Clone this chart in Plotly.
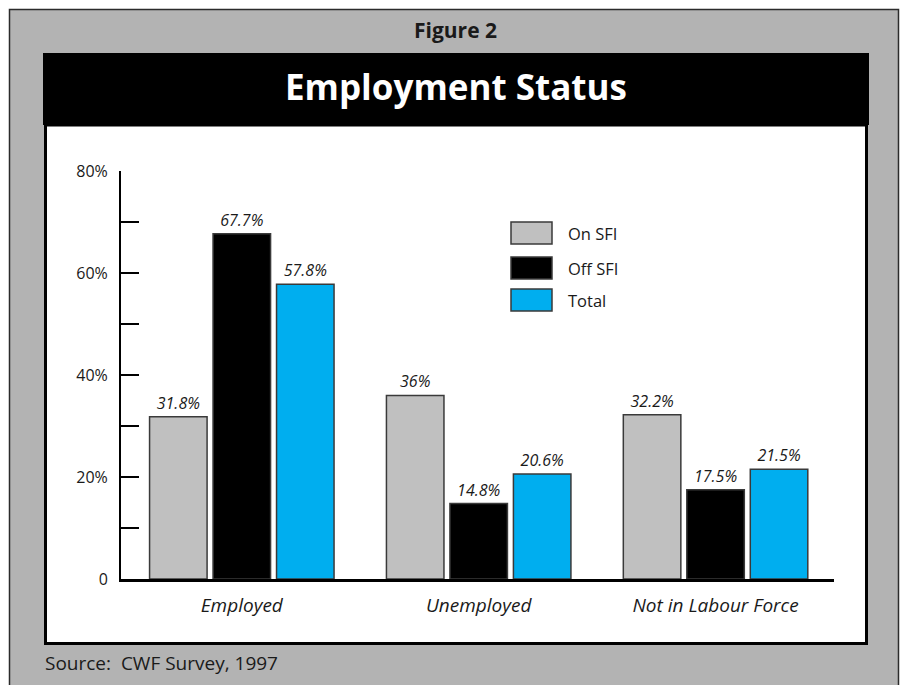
import plotly.graph_objects as go

# ---- data -------------------------------------------------------------
categories = ["Employed", "Unemployed", "Not in Labour Force"]
series_names = ["On SFI", "Off SFI", "Total"]
on_sfi = [31.8, 36, 32.2]
off_sfi = [67.7, 14.8, 17.5]
total = [57.8, 20.6, 21.5]
series_values = [on_sfi, off_sfi, total]
series_colors = ["#c0c0c0", "#000000", "#00aeef"]

y_tick_values = [0, 10, 20, 30, 40, 50, 60, 70, 80]
y_tick_labels = ["0", "", "20%", "", "40%", "", "60%", "", "80%"]
group_separators = [0.5, 1.5]

fig_title = "Employment Status"
fig_number = "Figure 2"
source_note = "Source:  CWF Survey, 1997"

# ---- layout geometry (pixels) ----------------------------------------
W, H = 902, 685
PL, PR, PT, PB = 121, 834, 171, 579   # plot area edges
FONT = "Open Sans"
INK = "#1a1a1a"


def fx(px):
    return (px - PL) / (PR - PL)


def fy(py):
    return (PB - py) / (PB - PT)


fig = go.Figure()

for name, vals, color in zip(series_names, series_values, series_colors):
    fig.add_trace(go.Bar(
        x=categories,
        y=vals,
        name=name,
        marker=dict(color=color, line=dict(color="#3a3a3a", width=1.5)),
        text=[f"{v:g}%" for v in vals],
        textposition="outside",
        textfont=dict(family=FONT, size=16, color=INK, style="italic"),
        cliponaxis=False,
        showlegend=False,
    ))

board_path = (f"M {fx(9.5)},{fy(H + 20)} L {fx(9.5)},{fy(9.5)} "
              f"L {fx(898.5)},{fy(9.5)} L {fx(898.5)},{fy(H + 20)}")

shapes = [
    # grey outer board (open at the bottom)
    dict(type="rect", xref="paper", yref="paper", layer="below",
         x0=fx(9.5), x1=fx(898.5), y0=fy(9.5), y1=fy(H + 20),
         fillcolor="#b3b3b3", line=dict(width=0)),
    dict(type="path", xref="paper", yref="paper", layer="below",
         path=board_path, line=dict(color="#2b2b2b", width=1.5)),
    # white chart panel
    dict(type="rect", xref="paper", yref="paper", layer="below",
         x0=fx(45.5), x1=fx(866.5), y0=fy(125), y1=fy(643.5),
         fillcolor="white", line=dict(color="black", width=3)),
    # black title band
    dict(type="rect", xref="paper", yref="paper", layer="below",
         x0=fx(43), x1=fx(869), y0=fy(53), y1=fy(125),
         fillcolor="black", line=dict(width=0)),
]


def label(text, x, y, size, color=INK, anchor="center"):
    return dict(text=text, x=fx(x), y=fy(y), xref="paper", yref="paper",
                xanchor=anchor, yanchor="middle", showarrow=False,
                font=dict(family=FONT, size=size, color=color))


annotations = [
    label(f"<b>{fig_number}</b>", 455, 30, 21),
    label(f"<b>{fig_title}</b>", 456, 86, 35, color="white"),
    label(source_note, 43, 663, 19, anchor="left"),
]

# legend: large swatches with labels
legend_tops = [222, 257, 289]
for name, color, top in zip(series_names, series_colors, legend_tops):
    shapes.append(dict(type="rect", xref="paper", yref="paper",
                       x0=fx(511), x1=fx(552), y0=fy(top), y1=fy(top + 22),
                       fillcolor=color, line=dict(color="#3a3a3a", width=1.5)))
    annotations.append(label(name, 566, top + 11, 16.5, anchor="left"))

fig.update_layout(
    width=W, height=H,
    margin=dict(l=PL, r=W - PR, t=PT, b=H - PB, pad=0),
    paper_bgcolor="white",
    plot_bgcolor="rgba(0,0,0,0)",
    barmode="group",
    bargap=0.196,
    bargroupgap=0.094,
    shapes=shapes,
    annotations=annotations,
    xaxis=dict(
        type="category",
        range=[-0.51, 2.5],
        showline=True, linecolor="black", linewidth=2.5,
        ticks="", showgrid=False, zeroline=False,
        tickfont=dict(family=FONT, size=19, color=INK, style="italic"),
        ticklabelstandoff=7,
    ),
    xaxis2=dict(
        overlaying="x", anchor="y", type="linear",
        range=[-0.51, 2.5],
        tickvals=group_separators,
        ticks="inside", ticklen=10, tickwidth=1.5, tickcolor="black",
        showticklabels=False, showgrid=False, zeroline=False, showline=False,
    ),
    yaxis=dict(
        range=[0, 80],
        tickvals=y_tick_values, ticktext=y_tick_labels,
        ticks="inside", ticklen=18, tickwidth=1.5, tickcolor="black",
        showline=True, linecolor="black", linewidth=2,
        showgrid=False, zeroline=False,
        tickfont=dict(family=FONT, size=16, color=INK),
        ticklabelstandoff=8,
    ),
)

fig.write_html("out.html")
